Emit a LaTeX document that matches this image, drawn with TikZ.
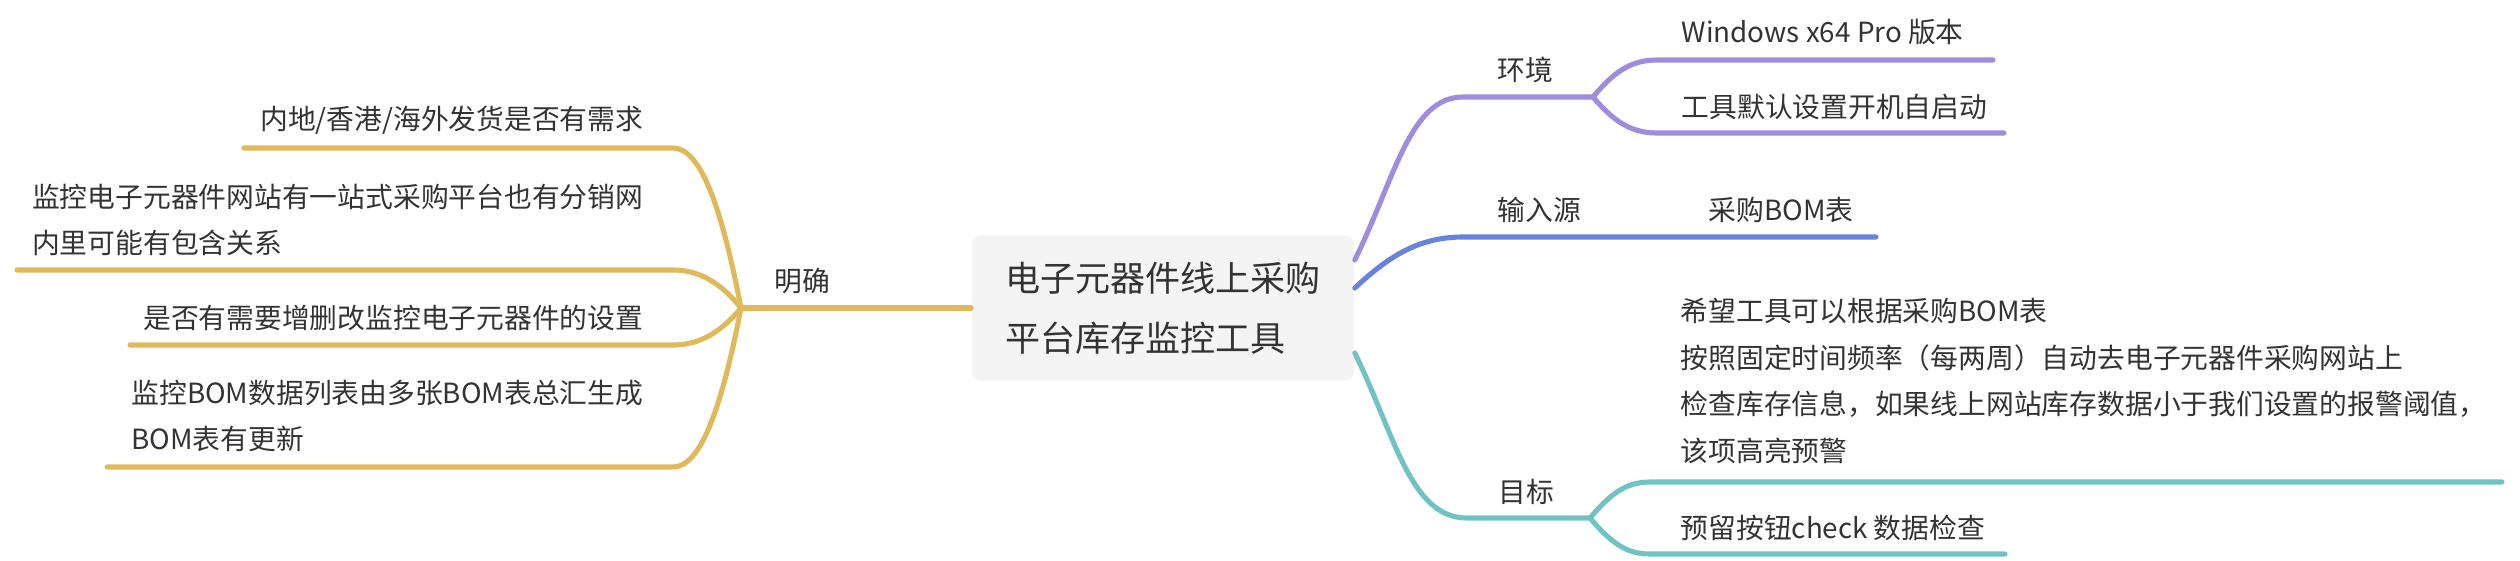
\documentclass[tikz,border=0pt]{standalone}
\usepackage{fontspec}
\setmainfont{Noto Sans CJK SC}
\usepackage{xcolor}
\definecolor{ink}{HTML}{333333}
\definecolor{boxfill}{HTML}{F4F4F4}
\definecolor{goldline}{HTML}{DFB95A}
\definecolor{lilac}{HTML}{A08CDE}
\definecolor{blueline}{HTML}{6982DC}
\definecolor{tealline}{HTML}{70C3C3}
\usetikzlibrary{calc,positioning}

\begin{document}
\begin{tikzpicture}[x=0.01cm, y=-0.01cm,
	leaf/.style={text=ink, inner sep=0pt, align=left, font=\fontsize{7.9}{13.2}\selectfont},
	topic/.style={fill=boxfill, text=ink, rounded corners=2.5pt, minimum width=3.82cm, minimum height=1.45cm, align=left, inner sep=0pt, font=\fontsize{9.96}{17}\selectfont},
	branch/.style={line width=1.45pt, line cap=round}]

			\useasboundingbox (0,0) rectangle (2520,560);

			% ================= Central topic =================
			\node[topic] (root) at (1163,308) {电子元器件线上采购\\平台库存监控工具};

			% ================= Left: 明确 =================
			\begin{scope}
				\coordinate (Jy) at (741,308);

				\draw[branch, goldline] (root.west) -- (Jy);

				\foreach \n/\yc/\xe in {
					1/148/244,
					2/270/17,
					3/345/130,
					4/467/107
				}{
					\pgfmathsetmacro\cy{308+0.65*(\yc-308)}
					\coordinate (ya\n) at (673,\yc);
					\coordinate (yb\n) at (\xe,\yc);
					\draw[branch, goldline] (Jy) .. controls (721,\cy) and (700,\yc) .. (ya\n) -- (yb\n);
				}

				\node[leaf] (mq) at (802,281) {明确};

				\node[leaf, anchor=east] (m1) at (644,120) {内地/香港/海外发货是否有需求};
				\node[leaf, anchor=east] (m2) at (644,220) {监控电子元器件网站有一站式采购平台也有分销网\\内里可能有包含关系};
				\node[leaf, anchor=east] (m3) at (644,318) {是否有需要增删改监控电子元器件的设置};
				\node[leaf, anchor=east] (m4) at (644,416) {监控BOM数据列表由多张BOM表总汇生成\\BOM表有更新};
			\end{scope}

			% ================= Right: 环境 =================
			\begin{scope}
				\coordinate (Jp) at (1593,97);

				\draw[branch, lilac] ([yshift=4.8mm]root.east) .. controls (1395,178) and (1410,97) .. (1463,97) -- (Jp);

				\foreach \n/\yc/\xe in {
					1/60/1993,
					2/133/2004
				}{
					\pgfmathsetmacro\cy{97+0.65*(\yc-97)}
					\coordinate (pa\n) at (1657,\yc);
					\coordinate (pb\n) at (\xe,\yc);
					\draw[branch, lilac] (Jp) .. controls (1613,\cy) and (1630,\yc) .. (pa\n) -- (pb\n);
				}

				\node[leaf, anchor=west] (hj) at (1497,70) {环境};
				\node[leaf, anchor=west] (h1) at (1681,32) {Windows x64 Pro 版本};
				\node[leaf, anchor=west] (h2) at (1681,107) {工具默认设置开机自启动};
			\end{scope}

			% ================= Right: 输入源 =================
			\begin{scope}
				\coordinate (Be) at (1876,237);

				\draw[branch, blueline] ([yshift=2mm]root.east) .. controls (1390,255) and (1420,237) .. (1463,237) -- (Be);

				\node[leaf, anchor=west] (sr) at (1497,210) {输入源};
				\node[leaf, anchor=west] (s1) at (1708,210) {采购BOM表};
			\end{scope}

			% ================= Right: 目标 =================
			\begin{scope}
				\coordinate (Jt) at (1590,518);

				\draw[branch, tealline] ([yshift=-4.5mm]root.east) .. controls (1395,435) and (1410,518) .. (1467,518) -- (Jt);

				\foreach \n/\yc/\xe in {
					1/482/2502,
					2/554/2005
				}{
					\pgfmathsetmacro\cy{518+0.65*(\yc-518)}
					\coordinate (ta\n) at (1650,\yc);
					\coordinate (tb\n) at (\xe,\yc);
					\draw[branch, tealline] (Jt) .. controls (1610,\cy) and (1625,\yc) .. (ta\n) -- (tb\n);
				}

				\node[leaf, anchor=west] (mb) at (1498,492) {目标};
				\node[leaf, anchor=west] (t1) at (1680,381) {希望工具可以根据采购BOM表\\按照固定时间频率（每两周）自动去电子元器件采购网站上\\检查库存信息，如果线上网站库存数据小于我们设置的报警阈值，\\该项高亮预警};
				\node[leaf, anchor=west] (t2) at (1680,528) {预留按钮check 数据检查};
			\end{scope}

		\end{tikzpicture}
\end{document}
